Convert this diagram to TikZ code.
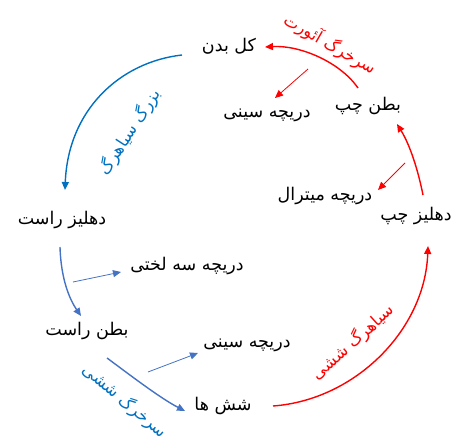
\documentclass[tikz,border=0pt]{standalone}
\usepackage{fontspec}
\newfontfamily\fa[Script=Arabic]{DejaVu Sans}
\TeXXeTstate=1
\usetikzlibrary{arrows.meta}
\definecolor{myred}{RGB}{255,0,0}
\definecolor{myblue}{RGB}{68,114,196}
\definecolor{lblue}{RGB}{0,112,192}
\begin{document}
\begin{tikzpicture}[x=1pt,y=-1pt,
  organ/.style={font=\fa\fontsize{17.5}{20}\selectfont, inner sep=0pt, text=black},
  vessel/.style={font=\fa\fontsize{16.5}{20}\selectfont, inner sep=0pt},
  flow/.style={line width=1.4pt, -{Triangle[length=8pt,width=7pt]}},
  valve/.style={line width=0.8pt, -{Triangle[length=8pt,width=7pt]}}]
\useasboundingbox (0,0) rectangle (458,442);
% organs
\node[organ] (body) at (229,46) {\beginR کل بدن\endR};
\node[organ] (lv) at (368,106) {\beginR بطن چپ\endR};
\node[organ] (sem1) at (267,115) {\beginR دریچه سینی\endR};
\node[organ] (mitral) at (325,196) {\beginR دریچه میترال\endR};
\node[organ] (la) at (416,216) {\beginR دهلیز چپ\endR};
\node[organ] (ra) at (62,220) {\beginR دهلیز راست\endR};
\node[organ] (tric) at (187,266) {\beginR دریچه سه لختی\endR};
\node[organ] (rv) at (87,331) {\beginR بطن راست\endR};
\node[organ] (sem2) at (247,345) {\beginR دریچه سینی\endR};
\node[organ] (lungs) at (223,406) {\beginR شش ها\endR};
% vessel labels
\node[vessel, text=myred, rotate=-30] (aorta) at (330,44) {\beginR سرخرگ آئورت\endR};
\node[vessel, text=lblue, rotate=57] (vcava) at (130,132) {\beginR بزرگ سیاهرگ\endR};
\node[vessel, text=lblue, rotate=-40] (part) at (125,401) {\beginR سرخرگ ششی\endR};
\node[vessel, text=myred, rotate=42] (pvein) at (353,342) {\beginR سیاهرگ ششی\endR};
% endpoints
\coordinate (lvout) at (358,88);
\coordinate (bodyin) at (265,47);
\coordinate (laout) at (423,195);
\coordinate (lvin) at (397,124);
\coordinate (lungout) at (273,406);
\coordinate (lain) at (428,246);
\coordinate (bodyout) at (182,55);
\coordinate (rain) at (65,190);
\coordinate (raout) at (60,247);
\coordinate (rvin) at (81,316);
\coordinate (rvout) at (107,358);
\coordinate (lungin) at (185,411);
% main flows
\draw[flow, myred] (lvout) .. controls (340,62) and (300,45) .. (bodyin);
\draw[flow, myred] (laout) .. controls (418,170) and (410,145) .. (lvin);
\draw[flow, myred] (lungout) .. controls (355,400) and (425,330) .. (lain);
\draw[flow, lblue] (bodyout) .. controls (120,62) and (68,110) .. (rain);
\draw[flow, myblue] (raout) .. controls (61,280) and (70,300) .. (rvin);
\draw[flow, myblue] (rvout) .. controls (130,375) and (160,398) .. (lungin);
% valve arrows
\coordinate (a1) at (308,69);   \coordinate (b1) at (275,98);
\coordinate (a2) at (405,163);  \coordinate (b2) at (378,190);
\coordinate (a3) at (73,282);   \coordinate (b3) at (121,272);
\coordinate (a4) at (148,372);  \coordinate (b4) at (198,353);
\draw[valve, myred] (a1) -- (b1);
\draw[valve, myred] (a2) -- (b2);
\draw[valve, myblue] (a3) -- (b3);
\draw[valve, myblue] (a4) -- (b4);
\end{tikzpicture}
\end{document}
